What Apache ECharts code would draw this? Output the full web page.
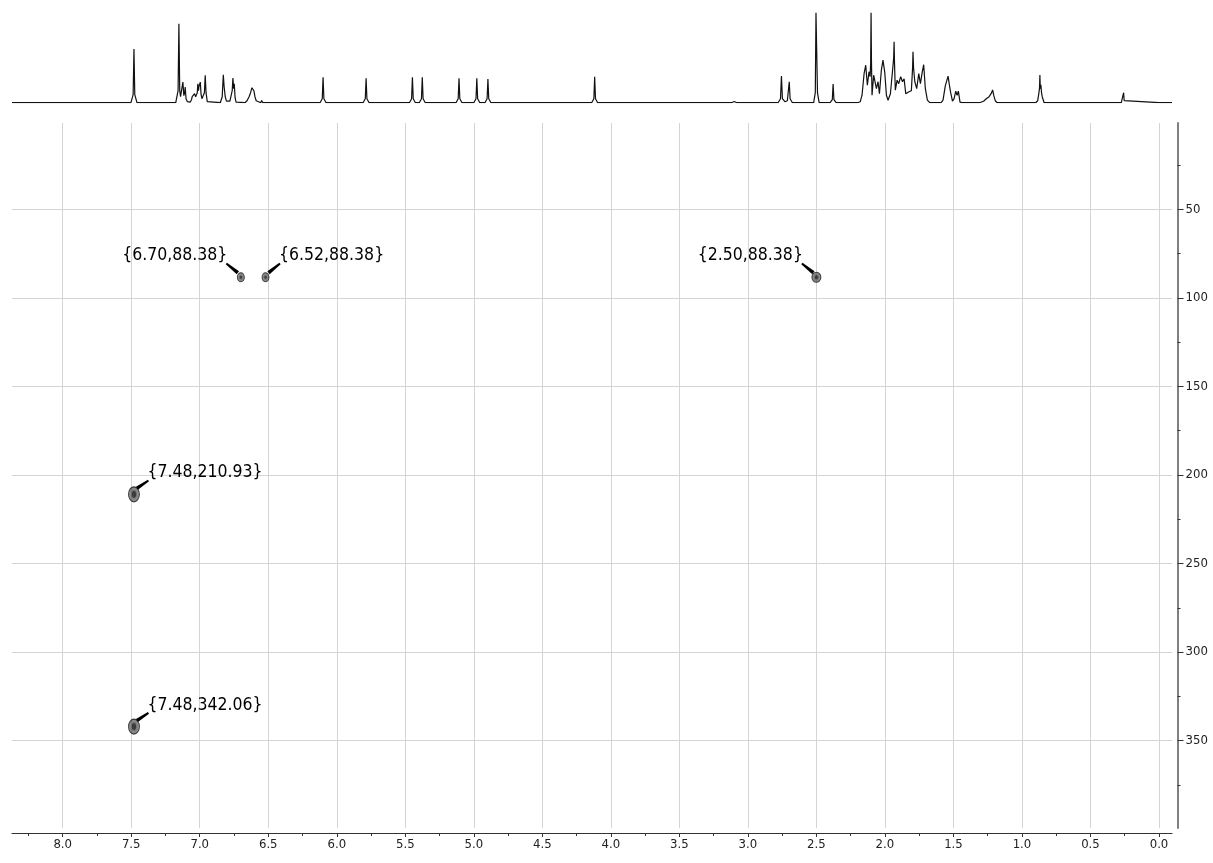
<!DOCTYPE html>
<html>
<head>
<meta charset="utf-8">
<script src="https://cdn.jsdelivr.net/npm/echarts@6/dist/echarts.min.js"></script>
<style>
  html, body { margin: 0; padding: 0; background: #fff; }
  #chart { width: 1213px; height: 863px; }
</style>
</head>
<body>
<div id="chart"></div>
<script>
// Cross-peaks: proton shift (ppm) and indirect-dimension shift
const shiftH = [6.70, 6.52, 2.50, 7.48, 7.48];
const shiftX = [88.38, 88.38, 88.38, 210.93, 342.06];

// Axis ticks
const xMajorTicks = [0.0, 0.5, 1.0, 1.5, 2.0, 2.5, 3.0, 3.5, 4.0, 4.5, 5.0, 5.5, 6.0, 6.5, 7.0, 7.5, 8.0];
const xMinorTicks = [0.25, 0.75, 1.25, 1.75, 2.25, 2.75, 3.25, 3.75, 4.25, 4.75, 5.25, 5.75, 6.25, 6.75, 7.25, 7.75, 8.25];
const yMajorTicks = [50, 100, 150, 200, 250, 300, 350];
const yMinorTicks = [25, 75, 125, 175, 225, 275, 325, 375];

// 1H projection trace: [ppm, intensity]
const spectrum1H = [
  [8.37, 0],
  [7.502, 0], [7.486, 8], [7.48, 53.7], [7.474, 8], [7.458, 0],
  [7.175, 0], [7.158, 12], [7.152, 79], [7.146, 12], [7.140, 6], [7.132, 5], [7.123, 20.6], [7.116, 7],
  [7.110, 10], [7.106, 15.6], [7.100, 4], [7.090, 1], [7.070, 0.5], [7.060, 3], [7.055, 6], [7.047, 4],
  [7.038, 9], [7.030, 6], [7.026, 5], [7.018, 10], [7.014, 19], [7.009, 12], [7.006, 16], [6.996, 20.6],
  [6.990, 8], [6.984, 4], [6.974, 3], [6.966, 10], [6.960, 27.3], [6.954, 10], [6.945, 1], [6.935, 0],
  [6.850, 0], [6.836, 6], [6.828, 28], [6.822, 16], [6.819, 18], [6.814, 6], [6.805, 1.5], [6.780, 1.5],
  [6.770, 3], [6.763, 12], [6.758, 24.6], [6.752, 14], [6.748, 19], [6.742, 5], [6.735, 0.5], [6.725, 0],
  [6.670, 0], [6.655, 2], [6.640, 6], [6.629, 10], [6.619, 15], [6.612, 16.3], [6.605, 12], [6.597, 6],
  [6.588, 2], [6.575, 0.3], [6.555, 0], [6.548, 2.3], [6.540, 0],
  [6.122, 0], [6.106, 4], [6.100, 25.4], [6.094, 4], [6.078, 0],
  [5.808, 0], [5.792, 4], [5.786, 24.4], [5.780, 4], [5.764, 0],
  [5.470, 0], [5.454, 4], [5.448, 25.4], [5.442, 4], [5.426, 0],
  [5.398, 0], [5.382, 4], [5.376, 25.4], [5.370, 4], [5.354, 0],
  [5.130, 0], [5.114, 4], [5.108, 24.4], [5.102, 4], [5.086, 0],
  [5.000, 0], [4.984, 4], [4.978, 24.4], [4.972, 4], [4.956, 0],
  [4.919, 0], [4.903, 4], [4.897, 23.7], [4.891, 4], [4.875, 0],
  [4.140, 0], [4.124, 4], [4.118, 26], [4.112, 4], [4.096, 0],
  [3.120, 0], [3.100, 1.2], [3.080, 0],
  [2.780, 0], [2.762, 4], [2.755, 26.7], [2.748, 4], [2.730, 1], [2.712, 2], [2.704, 4], [2.698, 21],
  [2.692, 4], [2.675, 0],
  [2.520, 0], [2.508, 10], [2.503, 90], [2.497, 90], [2.492, 10], [2.480, 0],
  [2.400, 0], [2.384, 3], [2.378, 18.7], [2.372, 3], [2.356, 0],
  [2.200, 0], [2.180, 1], [2.167, 7.5], [2.152, 29], [2.140, 37.5], [2.128, 17.5], [2.116, 31], [2.108, 26],
  [2.104, 40], [2.101, 90], [2.098, 40], [2.094, 7.5], [2.082, 27.5], [2.072, 28], [2.062, 14], [2.050, 21],
  [2.040, 9], [2.026, 32.5], [2.014, 42.5], [2.001, 30], [1.989, 7.5], [1.977, 2.5], [1.960, 9], [1.945, 31],
  [1.936, 45], [1.933, 61], [1.930, 40], [1.924, 12.5], [1.911, 22.5], [1.899, 19], [1.885, 26], [1.872, 21],
  [1.860, 24], [1.848, 9], [1.836, 7.5], [1.824, 11], [1.807, 12], [1.798, 35], [1.795, 51], [1.791, 35],
  [1.782, 21], [1.768, 14], [1.753, 29], [1.741, 19], [1.727, 31], [1.717, 38], [1.705, 14], [1.690, 2.5],
  [1.673, 0],
  [1.590, 0], [1.576, 2.5], [1.559, 17], [1.539, 26.5], [1.530, 18], [1.520, 10], [1.507, 1.5], [1.495, 4],
  [1.483, 11.5], [1.473, 7.5], [1.464, 11.5], [1.452, 0.5], [1.437, 0],
  [1.310, 0], [1.280, 1.5], [1.260, 4], [1.240, 6], [1.225, 9], [1.214, 12.7], [1.205, 7], [1.195, 2], [1.180, 0],
  [0.900, 0], [0.885, 2], [0.877, 9], [0.872, 14], [0.869, 27.7], [0.866, 14], [0.862, 18], [0.857, 10],
  [0.852, 6], [0.848, 4], [0.838, 0],
  [0.275, 0], [0.262, 2], [0.258, 10], [0.254, 2], [0.241, 0],
  [0.0, 0], [-0.095, 0]
];

// Drawing style for the cross-peaks and their callouts
const crossPeakSize = [[7, 9], [7, 9], [9, 10], [11, 15], [11, 15]];
const innerRingSize = [[3, 4], [3, 4], [4, 5], [5, 8], [5, 8]];
const calloutOnLeft = [true, false, true, false, false];

const FONT = "'DejaVu Sans Condensed', 'DejaVu Sans', sans-serif";
const X_RANGE = { min: -0.095, max: 8.37 };
const Y_RANGE = { min: 1.3, max: 399.3 };

const peakData = shiftH.map((h, i) => [h, shiftX[i]]);

// Callout: tapered leader from the label corner down to the peak, plus the text
function renderCallout(params, api) {
  const i = params.dataIndex;
  const h = api.value(0);
  const c = api.value(1);
  const p = api.coord([h, c]);
  const s = calloutOnLeft[i] ? -1 : 1;
  const reach = Math.max(4.5, crossPeakSize[i][1] / 2 - 1.5);
  const start = [p[0] + s * 14.5, p[1] - 13.8];   // label end
  const end = [p[0] + s * 3, p[1] - reach];       // peak end
  const dx = end[0] - start[0];
  const dy = end[1] - start[1];
  const len = Math.hypot(dx, dy);
  const nx = -dy / len;
  const ny = dx / len;
  const w0 = 1.0;   // half width at the label end
  const w1 = 1.8;   // half width at the peak end
  return {
    type: 'group',
    children: [
      {
        type: 'polygon',
        shape: {
          points: [
            [start[0] + nx * w0, start[1] + ny * w0],
            [end[0] + nx * w1, end[1] + ny * w1],
            [end[0] - nx * w1, end[1] - ny * w1],
            [start[0] - nx * w0, start[1] - ny * w0]
          ]
        },
        style: { fill: '#000' }
      },
      {
        type: 'text',
        x: p[0] + s * 13.5,
        y: p[1] - 21.5,
        style: {
          text: '{' + h.toFixed(2) + ',' + c.toFixed(2) + '}',
          fontFamily: FONT,
          fontSize: 17.5,
          fill: '#000',
          align: s < 0 ? 'right' : 'left',
          verticalAlign: 'middle'
        }
      }
    ]
  };
}

const chart = echarts.init(document.getElementById('chart'), null, { renderer: 'canvas' });

chart.setOption({
  animation: false,
  backgroundColor: '#ffffff',
  grid: [
    { left: 12, right: 41, top: 123, bottom: 35 },
    { left: 12, right: 41, top: 12.7, height: 90 }
  ],
  xAxis: [
    {
      gridIndex: 0, type: 'value', inverse: true, min: X_RANGE.min, max: X_RANGE.max,
      position: 'bottom', offset: 5,
      axisLine: { show: true, onZero: false, lineStyle: { color: '#333', width: 1 } },
      axisTick: { show: true, customValues: xMajorTicks, length: 4, lineStyle: { color: '#333' } },
      axisLabel: {
        show: true, customValues: xMajorTicks, margin: 5,
        formatter: v => Number(v).toFixed(1),
        fontFamily: FONT, fontSize: 13, color: '#222'
      },
      splitLine: { show: true, lineStyle: { color: '#d4d4d4', width: 1 } }
    },
    {
      gridIndex: 0, type: 'value', inverse: true, min: X_RANGE.min, max: X_RANGE.max,
      position: 'bottom', offset: 5,
      axisLine: { show: false, onZero: false },
      axisTick: { show: true, customValues: xMinorTicks, length: 3, lineStyle: { color: '#333' } },
      axisLabel: { show: false },
      splitLine: { show: false }
    },
    {
      gridIndex: 1, type: 'value', inverse: true, min: X_RANGE.min, max: X_RANGE.max, show: false,
      axisLine: { onZero: false }
    }
  ],
  yAxis: [
    {
      gridIndex: 0, type: 'value', inverse: true, min: Y_RANGE.min, max: Y_RANGE.max,
      position: 'right', offset: 5.5,
      axisLine: { show: true, onZero: false, lineStyle: { color: '#808080', width: 2 } },
      axisTick: { show: true, customValues: yMajorTicks, length: 6, lineStyle: { color: '#333' } },
      axisLabel: {
        show: true, customValues: yMajorTicks, margin: 8, padding: [5, 0, 0, 0],
        fontFamily: FONT, fontSize: 13, color: '#222'
      },
      splitLine: { show: true, lineStyle: { color: '#d4d4d4', width: 1 } }
    },
    {
      gridIndex: 0, type: 'value', inverse: true, min: Y_RANGE.min, max: Y_RANGE.max,
      position: 'right', offset: 5.5,
      axisLine: { show: false, onZero: false },
      axisTick: { show: true, customValues: yMinorTicks, length: 3, lineStyle: { color: '#333' } },
      axisLabel: { show: false },
      splitLine: { show: false }
    },
    {
      gridIndex: 1, type: 'value', min: 0, max: 90, show: false,
      axisLine: { onZero: false }
    }
  ],
  series: [
    {
      name: '1H',
      type: 'line',
      xAxisIndex: 2, yAxisIndex: 2,
      data: spectrum1H,
      showSymbol: false,
      symbol: 'none',
      lineStyle: { color: '#111', width: 1.2 },
      silent: true
    },
    {
      name: 'cross-peaks',
      type: 'scatter',
      xAxisIndex: 0, yAxisIndex: 0,
      data: peakData,
      symbol: 'circle',
      symbolSize: (val, params) => crossPeakSize[params.dataIndex],
      itemStyle: { color: 'rgba(80,80,80,0.85)', borderColor: '#1a1a1a', borderWidth: 1 },
      silent: true,
      z: 3
    },
    {
      name: 'cross-peak cores',
      type: 'scatter',
      xAxisIndex: 0, yAxisIndex: 0,
      data: peakData,
      symbol: 'circle',
      symbolSize: (val, params) => innerRingSize[params.dataIndex],
      itemStyle: { color: 'rgba(30,30,30,0.9)', borderColor: '#777', borderWidth: 1 },
      silent: true,
      z: 4
    },
    {
      name: 'callouts',
      type: 'custom',
      coordinateSystem: 'cartesian2d',
      xAxisIndex: 0, yAxisIndex: 0,
      data: peakData,
      renderItem: renderCallout,
      clip: false,
      silent: true,
      z: 5
    }
  ]
});
</script>
</body>
</html>
